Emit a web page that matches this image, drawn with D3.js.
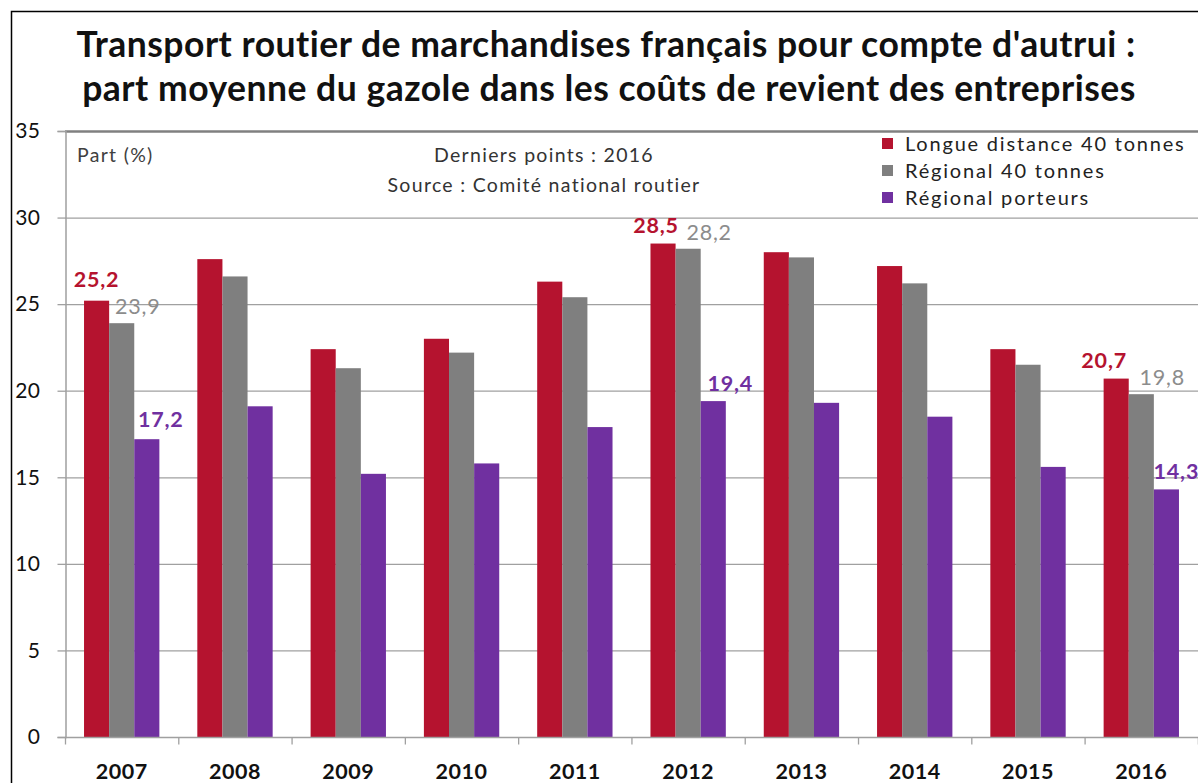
<!DOCTYPE html>
<html><head><meta charset="utf-8">
<script src="https://cdn.jsdelivr.net/npm/d3@7"></script>
<style>
html,body{margin:0;padding:0;background:#fff;}
svg{display:block;font-family:Lato,"Noto Sans",sans-serif;}
</style></head>
<body>
<svg id="chart" width="1198" height="783"></svg>
<script>
const years = ["2007","2008","2009","2010","2011","2012","2013","2014","2015","2016"];
const seriesNames = ["Longue distance 40 tonnes","Régional 40 tonnes","Régional porteurs"];
const longueDistance = [25.2,27.6,22.4,23.0,26.3,28.5,28.0,27.2,22.4,20.7];
const regional40 = [23.9,26.6,21.3,22.2,25.4,28.2,27.7,26.2,21.5,19.8];
const regionalPorteurs = [17.2,19.1,15.2,15.8,17.9,19.4,19.3,18.5,15.6,14.3];
const yTicks = [0,5,10,15,20,25,30,35];
const colors = ["#B5132F","#7F7F7F","#7030A0"];
// labelled points: [series index, year index]
const labelled = [[0,0],[1,0],[2,0],[0,5],[1,5],[2,5],[0,9],[1,9],[2,9]];
const labelDx = [0,16,14,-7,21,17,-12,21,10];
const labelDy = [-14,-9,-12,-11,-9,-10,-11,-9,-10];

const svg = d3.select("#chart");
const mLeft = 65, mRight = 1198, mTop = 131, mBottom = 737;

// outer frame
svg.append("path").attr("d","M11.5,783 V11.5 H1198").attr("fill","none").attr("stroke","#000").attr("stroke-width",1.5);

// title
const title = svg.append("text").attr("text-anchor","middle").attr("font-weight","bold").attr("font-size",35.5)
  .attr("letter-spacing",0.5).attr("fill","#111");
title.append("tspan").attr("x",606).attr("y",57).text("Transport routier de marchandises français pour compte d'autrui :");
title.append("tspan").attr("x",609).attr("y",101).text("part moyenne du gazole dans les coûts de revient des entreprises");

const x = d3.scaleBand().domain(years).range([mLeft,mRight]).paddingInner(0.335).paddingOuter(0.168);
const xs = d3.scaleBand().domain(d3.range(3)).range([0,x.bandwidth()]);
const y = d3.scaleLinear().domain([0,35]).range([mBottom,mTop]);

// gridlines
svg.append("g").selectAll("line").data(yTicks.filter(t=>t>0)).join("line")
  .attr("x1",mLeft).attr("x2",mRight).attr("y1",d=>y(d)+0.5).attr("y2",d=>y(d)+0.5)
  .attr("stroke",d=>d===35?"#808080":"#A0A0A0").attr("stroke-width",d=>d===35?2.5:1.3);

// bars
const allSeries = [longueDistance, regional40, regionalPorteurs];
allSeries.forEach((vals,si)=>{
  svg.append("g").selectAll("rect").data(vals).join("rect")
    .attr("x",(d,i)=>x(years[i])+xs(si))
    .attr("width",xs.bandwidth())
    .attr("y",d=>y(d))
    .attr("height",d=>y(0)-y(d))
    .attr("fill",colors[si]);
});

// y axis
const yAxis = d3.axisLeft(y).tickValues(yTicks).tickSize(8).tickPadding(17).tickFormat(d3.format("d"));
const gy = svg.append("g").attr("transform",`translate(${mLeft+0.5},0)`).call(yAxis);
gy.select(".domain").attr("stroke","#A0A0A0").attr("stroke-width",1.5);
gy.selectAll(".tick line").attr("stroke","#A0A0A0").attr("stroke-width",1.3);
gy.selectAll(".tick text").attr("font-size",21).attr("fill","#111").attr("font-family","Lato,sans-serif").attr("letter-spacing",0.5);

// x axis
const gx = svg.append("g").attr("transform",`translate(0,${mBottom+0.5})`);
gx.append("line").attr("x1",mLeft).attr("x2",mRight).attr("stroke","#A0A0A0").attr("stroke-width",1.5);
const step = x.step();
gx.selectAll("line.tk").data(d3.range(years.length+1)).join("line").attr("class","tk")
  .attr("x1",i=>mLeft+i*step+0.5).attr("x2",i=>mLeft+i*step+0.5).attr("y1",0).attr("y2",7)
  .attr("stroke","#A0A0A0").attr("stroke-width",1.3);
gx.selectAll("text").data(years).join("text")
  .attr("x",d=>x(d)+x.bandwidth()/2).attr("y",41).attr("text-anchor","middle")
  .attr("font-size",21.5).attr("font-weight","bold").attr("letter-spacing",0.5).attr("fill","#111").text(d=>d);

// value labels
const fmt = v => d3.format(".1f")(v).replace(".",",");
svg.append("g").selectAll("text").data(labelled).join("text")
  .attr("x",(d,k)=>x(years[d[1]])+xs(d[0])+xs.bandwidth()/2+labelDx[k])
  .attr("y",(d,k)=>y(allSeries[d[0]][d[1]])+labelDy[k])
  .attr("text-anchor","middle").attr("font-size",21.5).attr("letter-spacing",0.8)
  .attr("font-weight",d=>d[0]===1?"normal":"bold")
  .attr("fill",d=>d[0]===1?"#8C8C8C":colors[d[0]])
  .text(d=>fmt(allSeries[d[0]][d[1]]));

// annotations
const annoStyle = s => s.attr("font-size",19.5).attr("letter-spacing",1.3);
svg.append("text").attr("x",77).attr("y",162).attr("fill","#404040").call(annoStyle).text("Part (%)");
svg.append("text").attr("x",544).attr("y",162).attr("text-anchor","middle").attr("fill","#333").call(annoStyle).text("Derniers points : 2016");
svg.append("text").attr("x",544).attr("y",192).attr("text-anchor","middle").attr("fill","#333").call(annoStyle).text("Source : Comité national routier");

// legend
const lg = svg.append("g").attr("transform","translate(882,138)");
seriesNames.forEach((n,i)=>{
  const r = lg.append("g").attr("transform",`translate(0,${i*27})`);
  r.append("rect").attr("width",11).attr("height",11).attr("fill",colors[i]);
  r.append("text").attr("x",23).attr("y",13).attr("font-size",20).attr("letter-spacing",1.8).attr("fill","#222").text(n);
});
</script>
</body></html>
